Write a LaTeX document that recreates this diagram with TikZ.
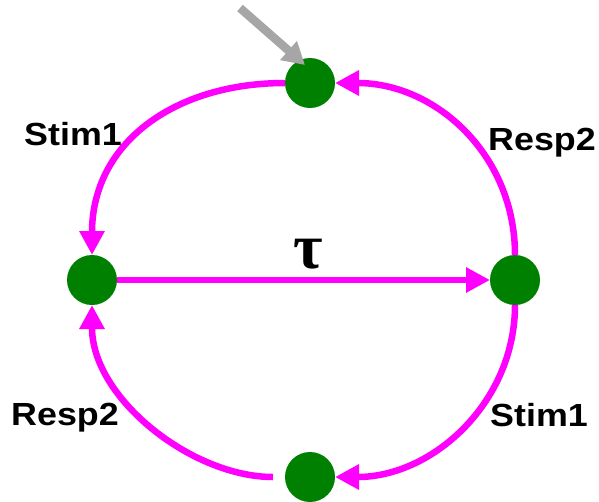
\documentclass[tikz,border=0pt]{standalone}
\usepackage{fontspec}
\setmainfont{Liberation Sans}
\newfontfamily\taufont{Liberation Serif}
\usetikzlibrary{arrows.meta}
\definecolor{stategreen}{RGB}{0,128,0}
\definecolor{edgemag}{RGB}{255,0,255}
\definecolor{pointgray}{RGB}{166,166,166}
\begin{document}
\begin{tikzpicture}[x=1pt,y=-1pt,
  state/.style={circle,fill=stategreen,minimum size=50pt,inner sep=0pt,outer sep=0pt},
  trans/.style={draw=edgemag,line width=6.5pt,-{Triangle[length=24pt,width=24pt]}},
  lbl/.style={font=\bfseries\fontsize{32}{32}\selectfont,anchor=base,inner sep=0pt,xscale=1.12}]
\useasboundingbox (0,0) rectangle (599,501);
\node[state] (top) at (310,83) {};
\node[state] (left) at (92,280) {};
\node[state] (right) at (515,280) {};
\node[state] (bot) at (310,477) {};
\draw[trans] (top) to[out=180,in=90,looseness=1.1] (left);
\draw[trans] (right) to[out=90,in=0,looseness=1.03] (top);
\draw[trans] (left) -- (right);
\draw[trans] (right) to[out=270,in=0,looseness=1.0] (bot);
\draw[trans,shorten <=12pt] (bot) to[out=180,in=270,looseness=0.92] (left);
\node[lbl] (s1) at (73,145) {Stim1};
\node[lbl] (r1) at (542,150) {Resp2};
\node[lbl] (r2) at (65,425) {Resp2};
\node[lbl] (s2) at (539,426) {Stim1};
\node[font=\taufont\bfseries\fontsize{64}{64}\selectfont,inner sep=0pt] (tau) at (308,254) {τ};
\coordinate (gs) at (240,8);
\coordinate (ge) at (305,65);
\draw[draw=pointgray,line width=8.5pt,-{Triangle[length=22pt,width=24pt]}] (gs) -- (ge);
\end{tikzpicture}
\end{document}
